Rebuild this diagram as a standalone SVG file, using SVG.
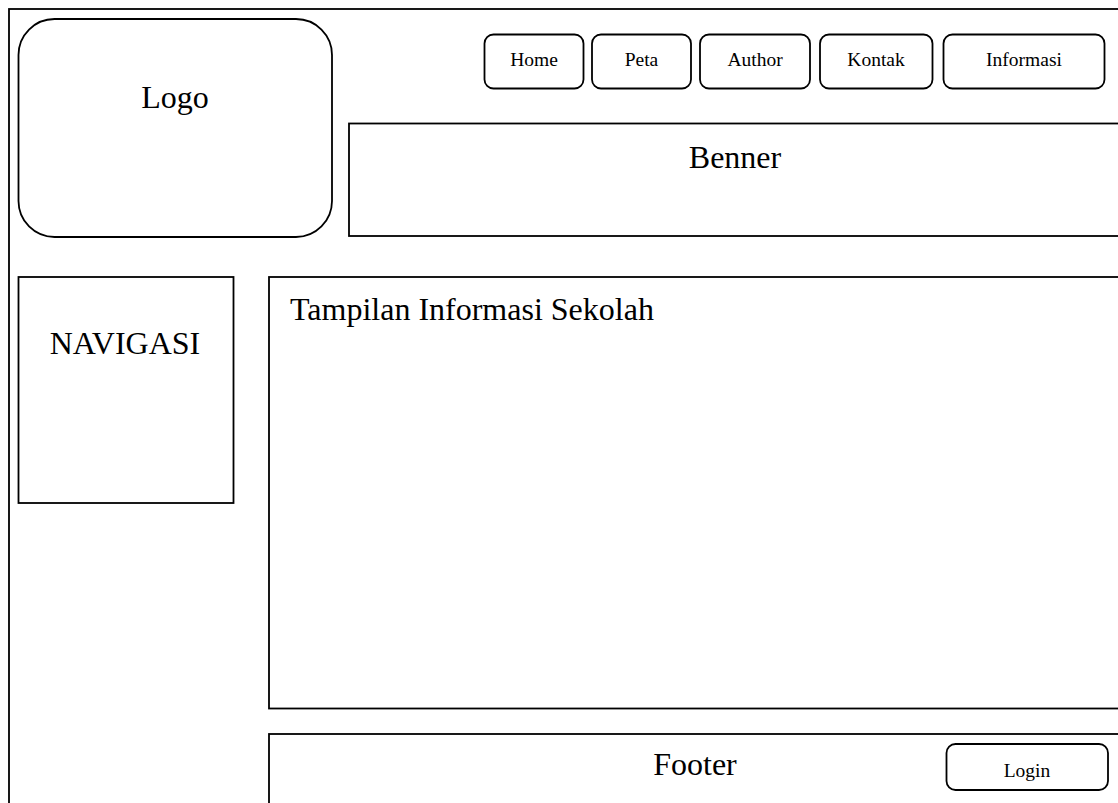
<svg xmlns="http://www.w3.org/2000/svg" width="1118" height="803" viewBox="0 0 1118 803">
<style>
.box{fill:#fff;stroke:#000;stroke-width:1.8}
.big{font-family:"Liberation Serif","Times New Roman",serif;font-size:32px;fill:#000}
.small{font-family:"Liberation Serif","Times New Roman",serif;font-size:19.5px;fill:#000;text-anchor:middle}
</style>
<rect width="1118" height="803" fill="#fff"/>
<g id="frame"><rect class="box" x="9" y="9" width="1130" height="820"/></g>
<g id="logo"><rect class="box" x="18.5" y="19" width="313.5" height="218" rx="36" ry="36"/><text class="big" x="175" y="108" text-anchor="middle">Logo</text></g>
<g id="btn-home"><rect class="box" x="484.5" y="34.5" width="99" height="54" rx="9"/><text class="small" x="534" y="66">Home</text></g>
<g id="btn-peta"><rect class="box" x="592" y="34.5" width="99" height="54" rx="9"/><text class="small" x="641.5" y="66">Peta</text></g>
<g id="btn-author"><rect class="box" x="700" y="34.5" width="110" height="54" rx="9"/><text class="small" x="755" y="66">Author</text></g>
<g id="btn-kontak"><rect class="box" x="820" y="34.5" width="112.5" height="54" rx="9"/><text class="small" x="876" y="66">Kontak</text></g>
<g id="btn-informasi"><rect class="box" x="943.5" y="34.5" width="161" height="54" rx="9"/><text class="small" x="1024" y="66">Informasi</text></g>
<g id="benner"><rect class="box" x="349" y="123.5" width="800" height="112.5"/><text class="big" x="735" y="168" text-anchor="middle">Benner</text></g>
<g id="navigasi"><rect class="box" x="18.5" y="277" width="215" height="226"/><text class="big" x="125" y="354" text-anchor="middle">NAVIGASI</text></g>
<g id="content"><rect class="box" x="269" y="277" width="880" height="431.5"/><text class="big" x="290" y="320">Tampilan Informasi Sekolah</text></g>
<g id="footer"><rect class="box" x="269" y="734" width="880" height="100"/><text class="big" x="695" y="775" text-anchor="middle">Footer</text></g>
<g id="btn-login"><rect class="box" x="946.5" y="744" width="161.5" height="46" rx="9"/><text class="small" x="1027" y="777">Login</text></g>
<g id="connectors"></g>
</svg>
